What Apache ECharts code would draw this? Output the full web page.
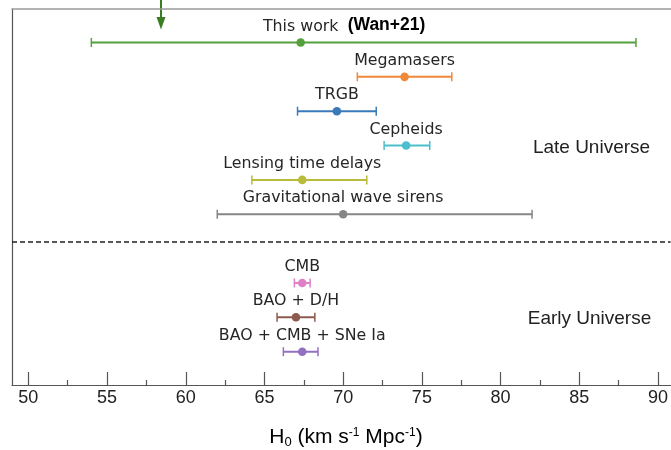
<!DOCTYPE html>
<html>
<head>
<meta charset="utf-8">
<script src="https://cdn.jsdelivr.net/npm/echarts@6/dist/echarts.min.js"></script>
<style>html,body{margin:0;padding:0;background:#fff;}#c{width:671px;height:450px;}</style>
</head>
<body>
<div id="c"></div>
<script>
const categories = ['This work', 'Megamasers', 'TRGB', 'Cepheids', 'Lensing time delays', 'Gravitational wave sirens', 'CMB', 'BAO + D/H', 'BAO + CMB + SNe Ia'];
const rowIndex = [0, 1, 2, 3, 4, 5, 7, 8, 9];
const lowValues = [54.0, 70.9, 67.1, 72.6, 64.2, 62.0, 66.9, 65.8, 66.2];
const centralValues = [67.3, 73.9, 69.6, 74.0, 67.4, 70.0, 67.4, 67.0, 67.4];
const highValues = [88.6, 76.9, 72.1, 75.5, 71.5, 82.0, 67.9, 68.2, 68.4];
const notes = ['(Wan+21)', '', '', '', '', '', '', '', ''];
const majorTicks = [50, 55, 60, 65, 70, 75, 80, 85, 90];
const minorTicks = [52.5, 57.5, 62.5, 67.5, 72.5, 77.5, 82.5, 87.5];
const colors = ['#55a03c', '#f0883a', '#3a7ab8', '#4dbfcc', '#b9bb3a', '#868686', '#e07fc6', '#8c5a4e', '#9470c0'];
const dividerRow = 5.8;

const X_MIN = 48.96, X_MAX = 90.8;
const chart = echarts.init(document.getElementById('c'), null, {renderer: 'canvas'});

const data = rowIndex.map((r, i) => [lowValues[i], centralValues[i], highValues[i], r]);

const option = {
  animation: false,
  grid: {left: 12, right: 0, top: 9, bottom: 65},
  xAxis: [
    {
      type: 'value', position: 'bottom', min: X_MIN, max: X_MAX,
      axisLine: {show: true, onZero: false, lineStyle: {color: '#555', width: 1.2}},
      axisTick: {show: true, inside: true, length: 13, customValues: majorTicks, lineStyle: {color: '#555', width: 1.2}},
      axisLabel: {show: true, customValues: majorTicks, fontFamily: 'Liberation Sans', fontSize: 18, color: '#222', margin: 4},
      splitLine: {show: false}
    },
    {
      type: 'value', position: 'bottom', min: X_MIN, max: X_MAX,
      axisLine: {show: false, onZero: false},
      axisTick: {show: true, inside: true, length: 5, customValues: minorTicks, lineStyle: {color: '#555', width: 1.2}},
      axisLabel: {show: false},
      splitLine: {show: false}
    },
    {
      type: 'value', position: 'top', min: X_MIN, max: X_MAX,
      axisLine: {show: true, onZero: false, lineStyle: {color: '#9a9a9a', width: 1.5}},
      axisTick: {show: false}, axisLabel: {show: false}, splitLine: {show: false}
    }
  ],
  yAxis: {
    type: 'value', inverse: true, min: -0.975, max: 9.97,
    axisLine: {show: true, onZero: false, lineStyle: {color: '#555', width: 1.2}},
    axisTick: {show: false}, axisLabel: {show: false}, splitLine: {show: false}
  },
  series: [
    {
      type: 'line', data: [], xAxisIndex: 0,
      markLine: {
        silent: true, symbol: 'none', label: {show: false},
        lineStyle: {type: [5, 3], color: '#222', width: 1.5},
        data: [{yAxis: dividerRow}]
      }
    },
    {
      type: 'custom', xAxisIndex: 0,
      data: data,
      encode: {x: [0, 1, 2], y: 3},
      renderItem: function (params, api) {
        const i = params.dataIndex;
        const r = api.value(3);
        const pL = api.coord([api.value(0), r]);
        const pM = api.coord([api.value(1), r]);
        const pR = api.coord([api.value(2), r]);
        const c = colors[i];
        const ls = {stroke: c, lineWidth: 2};
        const children = [
          {type: 'line', shape: {x1: pL[0], y1: pL[1], x2: pR[0], y2: pR[1]}, style: ls},
          {type: 'line', shape: {x1: pL[0], y1: pL[1] - 4.5, x2: pL[0], y2: pL[1] + 4.5}, style: {stroke: c, lineWidth: 1.5}},
          {type: 'line', shape: {x1: pR[0], y1: pR[1] - 4.5, x2: pR[0], y2: pR[1] + 4.5}, style: {stroke: c, lineWidth: 1.5}},
          {type: 'circle', shape: {cx: pM[0], cy: pM[1], r: 4.3}, style: {fill: c}},
          {type: 'text', x: pM[0], y: pM[1] - 16, style: {text: categories[i], fill: '#262626', fontFamily: 'DejaVu Sans', fontSize: 15.8, align: 'center', verticalAlign: 'middle'}}
        ];
        if (notes[i]) {
          children.push({type: 'text', x: pM[0] + 47, y: pM[1] - 17, style: {text: notes[i], fill: '#000', fontFamily: 'Liberation Sans', fontWeight: 'bold', fontSize: 17.5, align: 'left', verticalAlign: 'middle'}});
        }
        return {type: 'group', children: children};
      }
    }
  ],
  graphic: [
    {type: 'line', shape: {x1: 161, y1: 0, x2: 161, y2: 19}, style: {stroke: '#3b7d23', lineWidth: 2}},
    {type: 'polygon', shape: {points: [[156.5, 17], [165.5, 17], [161, 29.5]]}, style: {fill: '#3b7d23'}},
    {type: 'text', x: 591.5, y: 147.5, style: {text: 'Late Universe', fill: '#222', fontFamily: 'Liberation Sans', fontSize: 19, align: 'center', verticalAlign: 'middle'}},
    {type: 'text', x: 589.5, y: 318.5, style: {text: 'Early Universe', fill: '#222', fontFamily: 'Liberation Sans', fontSize: 19, align: 'center', verticalAlign: 'middle'}},
    {type: 'text', x: 346, y: 437, style: {
      text: '{a|H}{b|0}{a| (km s}{c|-1}{a| Mpc}{c|-1}{a|)}',
      align: 'center', verticalAlign: 'middle',
      rich: {
        a: {fontFamily: 'Liberation Sans', fontSize: 21, color: '#222', lineHeight: 27, verticalAlign: 'middle'},
        b: {fontFamily: 'Liberation Sans', fontSize: 13, color: '#222', lineHeight: 13, verticalAlign: 'bottom', padding: [0, 0, 2, 0]},
        c: {fontFamily: 'Liberation Sans', fontSize: 12, color: '#222', lineHeight: 12, verticalAlign: 'top', padding: [3, 0, 0, 0]}
      }
    }}
  ]
};
chart.setOption(option);
</script>
</body>
</html>
